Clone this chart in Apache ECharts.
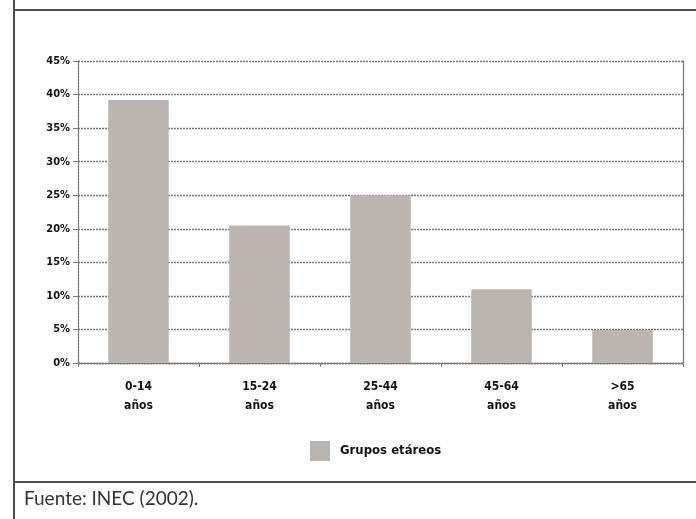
<!DOCTYPE html>
<html lang="es">
<head>
<meta charset="UTF-8">
<title>Grupos etáreos</title>
<script src="https://cdn.jsdelivr.net/npm/echarts@6/dist/echarts.min.js"></script>
<style>
  html, body { margin: 0; padding: 0; background: #fff; }
  #chart { width: 696px; height: 519px; }
</style>
</head>
<body>
<div id="chart"></div>
<script>
// Datos (INEC 2002)
const categories = ['0-14\naños', '15-24\naños', '25-44\naños', '45-64\naños', '>65\naños'];
const values = [39.2, 20.5, 25.0, 11.0, 4.9];
const seriesName = 'Grupos etáreos';
const yTicks = { min: 0, max: 45, interval: 5 };

const gridLine = { color: '#7e7877', width: 1.3, type: [2, 1] };
const labelFont = "'DejaVu Sans Condensed', 'Liberation Sans Narrow', sans-serif";

const chart = echarts.init(document.getElementById('chart'));

chart.setOption({
  animation: false,
  grid: { left: 78, right: 13, top: 61, bottom: 156 },
  legend: {
    data: [seriesName],
    left: 305,
    top: 436,
    itemWidth: 20,
    itemHeight: 20,
    icon: 'rect',
    textStyle: { fontFamily: labelFont, fontSize: 13, fontWeight: 'bold', color: '#111', padding: [0, 0, 0, 5] }
  },
  xAxis: {
    type: 'category',
    data: categories,
    axisLine: { lineStyle: gridLine },
    axisTick: { show: true, length: 4, lineStyle: { color: '#7e7877' } },
    axisLabel: { fontFamily: labelFont, fontSize: 12, fontWeight: 'bold', color: '#111', lineHeight: 19, margin: 14 }
  },
  yAxis: [{
    type: 'value',
    min: yTicks.min,
    max: yTicks.max,
    interval: yTicks.interval,
    axisLine: { show: true, lineStyle: gridLine },
    axisTick: { show: true, length: 5, lineStyle: { color: '#7e7877' } },
    splitLine: { lineStyle: gridLine },
    axisLabel: { formatter: '{value}%', fontFamily: labelFont, fontSize: 11, fontWeight: 'bold', color: '#111', margin: 8 }
  }, {
    type: 'value',
    position: 'right',
    min: yTicks.min,
    max: yTicks.max,
    interval: yTicks.interval,
    axisLine: { show: true, lineStyle: gridLine },
    axisTick: { show: false },
    splitLine: { show: false },
    axisLabel: { show: false }
  }],
  series: [{
    name: seriesName,
    type: 'bar',
    data: values,
    barWidth: '50%',
    itemStyle: { color: '#bcb4b1' }
  }],
  graphic: [
    { type: 'line', shape: { x1: 14, y1: 0, x2: 14, y2: 519 }, style: { stroke: '#4d4d4d', lineWidth: 2 } },
    { type: 'line', shape: { x1: 14, y1: 10, x2: 696, y2: 10 }, style: { stroke: '#4d4d4d', lineWidth: 2 } },
    { type: 'line', shape: { x1: 14, y1: 482, x2: 696, y2: 482 }, style: { stroke: '#4d4d4d', lineWidth: 2 } },
    { type: 'text', left: 24, top: 489, style: { text: 'Fuente: INEC (2002).', fontFamily: "'Lato', 'Open Sans', sans-serif", fontSize: 19, fill: '#333' } }
  ]
});
</script>
</body>
</html>
